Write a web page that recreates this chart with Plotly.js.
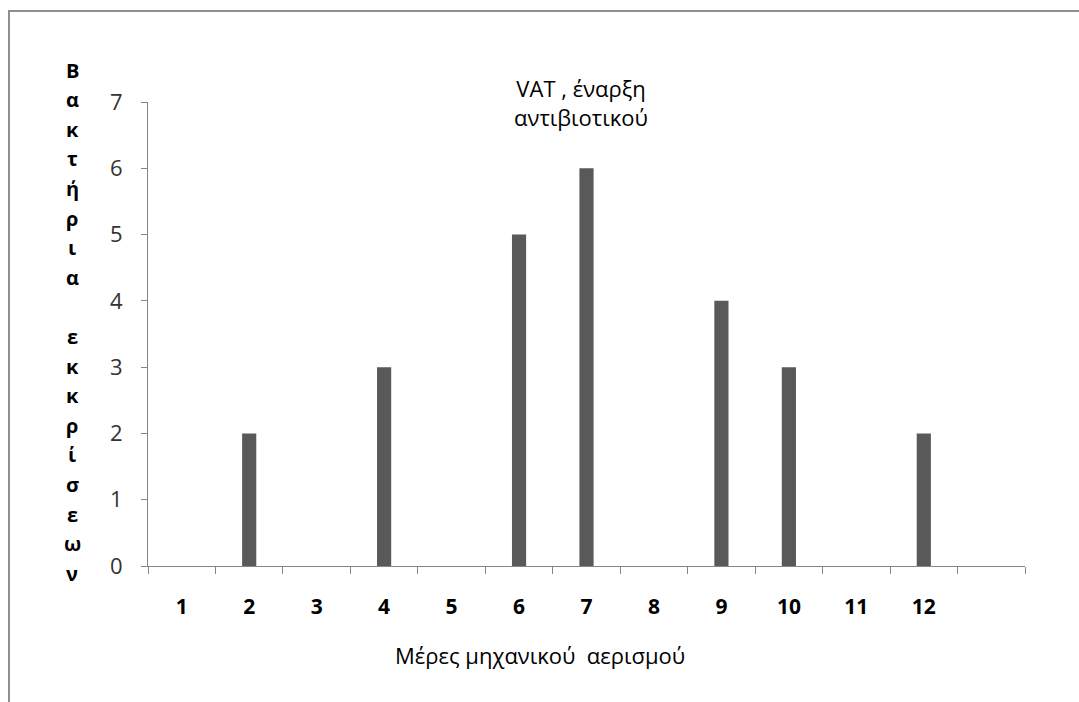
<!DOCTYPE html>
<html>
<head>
<meta charset="utf-8">
<script src="https://cdn.plot.ly/plotly-3.0.1.min.js"></script>
<style>
html,body{margin:0;padding:0;background:#fff;}
#chart{width:1079px;height:702px;}
</style>
</head>
<body>
<div id="chart"></div>
<script>
// ---- data ----
const days = ['1','2','3','4','5','6','7','8','9','10','11','12'];
const bacteriaCounts = [0,2,0,3,0,5,6,0,4,3,0,2];
const slotLabels = ['1','2','3','4','5','6','7','8','9','10','11','12',' '];
const titleText = 'VAT , έναρξη<br>αντιβιοτικού';
const xTitleText = 'Μέρες μηχανικού  αερισμού';
const yTitleText = 'Βακτήρια εκκρίσεων';
const yTicks = [0,1,2,3,4,5,6,7];

// ---- layout geometry ----
const W = 1079, H = 702;
const ML = 148, MR = 54, MT = 102, MB = 136;
const PW = W - ML - MR, PH = H - MT - MB;
const px = x => (x - ML) / PW;
const py = y => (H - MB - y) / PH;
const FONT = 'Open Sans, Noto Sans, DejaVu Sans, sans-serif';

// stacked vertical y-title, one letter per line
const letters = Array.from(yTitleText);
const yLetterAnns = letters.map((ch, i) => ({
  text: ch === ' ' ? '' : ch,
  xref: 'paper', yref: 'paper',
  x: px(72), y: py(70 + i * 29.6),
  xanchor: 'center', yanchor: 'middle',
  showarrow: false,
  font: {family: FONT, size: 20, color: '#000', weight: 'bold'}
}));

const trace = {
  type: 'bar',
  x: days,
  y: bacteriaCounts,
  width: 0.21,
  marker: {color: '#595959', line: {width: 0}},
  hoverinfo: 'x+y'
};

const layout = {
  width: W, height: H,
  margin: {l: ML, r: MR, t: MT, b: MB},
  paper_bgcolor: '#fff', plot_bgcolor: '#fff',
  showlegend: false,
  font: {family: FONT},
  title: {
    text: titleText,
    xref: 'paper', x: px(581), xanchor: 'center',
    yref: 'container', y: 1 - 97 / H, yanchor: 'middle',
    font: {family: FONT, size: 22, color: '#000'}
  },
  xaxis: {
    type: 'category',
    categoryorder: 'array',
    categoryarray: slotLabels,
    range: [-0.5, slotLabels.length - 0.5],
    tickson: 'boundaries',
    ticks: 'outside', ticklen: 7, tickcolor: '#868686', tickwidth: 1,
    showline: true, linecolor: '#868686', linewidth: 1,
    showgrid: false, zeroline: false,
    ticklabelstandoff: 22,
    tickfont: {family: FONT, size: 21, color: '#000', weight: 'bold'},
    fixedrange: true
  },
  yaxis: {
    range: [0, 7],
    tickvals: yTicks,
    ticks: 'outside', ticklen: 6, tickcolor: '#868686', tickwidth: 1,
    showline: true, linecolor: '#868686', linewidth: 1,
    showgrid: false, zeroline: false,
    ticklabelstandoff: 14,
    tickfont: {family: FONT, size: 22, color: '#333'},
    fixedrange: true
  },
  annotations: [
    {
      text: xTitleText,
      xref: 'paper', yref: 'paper',
      x: px(540), y: py(655),
      xanchor: 'center', yanchor: 'middle',
      showarrow: false,
      font: {family: FONT, size: 22, color: '#000'}
    }
  ].concat(yLetterAnns),
  shapes: [
    {type: 'line', xref: 'paper', yref: 'paper', x0: px(9), x1: px(9), y0: py(10), y1: py(720),
     line: {color: '#8f8f8f', width: 2}},
    {type: 'line', xref: 'paper', yref: 'paper', x0: px(8), x1: px(1090), y0: py(11), y1: py(11),
     line: {color: '#8f8f8f', width: 2}}
  ]
};

Plotly.newPlot('chart', [trace], layout, {staticPlot: true, displayModeBar: false});
</script>
</body>
</html>
